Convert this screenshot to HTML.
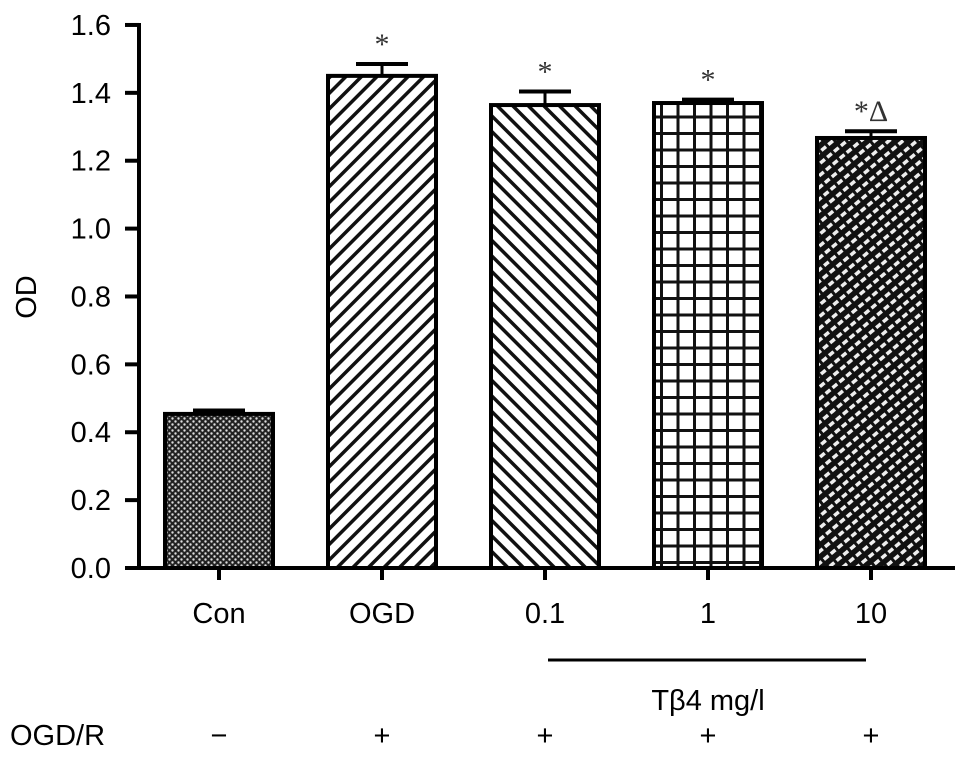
<!DOCTYPE html>
<html><head><meta charset="utf-8"><style>
html,body{margin:0;padding:0;background:#fff;}
svg{display:block;font-family:"Liberation Sans",sans-serif;}
</style></head><body>
<svg id="chart" width="969" height="757" viewBox="0 0 969 757">
<defs>
<pattern id="pCon" width="6" height="6" patternUnits="userSpaceOnUse">
<rect width="6" height="6" fill="#222"/><circle cx="1.5" cy="1.5" r="1.2" fill="#ddd"/><circle cx="4.5" cy="4.5" r="1.2" fill="#ddd"/>
</pattern>
<pattern id="pOGD" width="11" height="11" patternUnits="userSpaceOnUse" patternTransform="rotate(45)">
<rect width="11" height="11" fill="#fff"/><rect width="3.5" height="11" fill="#111"/>
</pattern>
<pattern id="p01" width="11" height="11" patternUnits="userSpaceOnUse" patternTransform="rotate(-45)">
<rect width="11" height="11" fill="#fff"/><rect width="3.5" height="11" fill="#111"/>
</pattern>
<pattern id="p1" width="16.5" height="16.5" patternUnits="userSpaceOnUse" x="0" y="0">
<rect width="16.5" height="16.5" fill="#fff"/><rect width="3" height="16.5" fill="#111"/><rect width="16.5" height="3" fill="#111"/>
</pattern>
<pattern id="p10" width="9" height="9" patternUnits="userSpaceOnUse" patternTransform="rotate(-40)">
<rect width="9" height="9" fill="#111"/><rect x="1.5" y="2.5" width="6" height="3.5" fill="#eee"/>
</pattern>
</defs>
<g id="plot"></g>
<text x="36" y="297" font-size="29" text-anchor="middle" transform="rotate(-90 36 297)">OD</text>
<line x1="548" y1="660" x2="866" y2="660" stroke="#000" stroke-width="3"/>
<text x="708" y="710" font-size="29" text-anchor="middle">Tβ4 mg/l</text>
<text x="10" y="745" font-size="29">OGD/R</text>
</svg>
<script>
const categories = ["Con","OGD","0.1","1","10"];
const values = [0.454,1.45,1.364,1.37,1.267];
const errors = [0.01,0.035,0.04,0.01,0.02];
const marks = ["","*","*","*","*Δ"];
const ogdr = ["−","+","+","+","+"];
const ticks = [0,0.2,0.4,0.6,0.8,1.0,1.2,1.4,1.6];
const fills = ["pCon","pOGD","p01","p1","p10"];
const NS="http://www.w3.org/2000/svg";
const g=document.getElementById('plot');
const y0=568, pxPer=339.4, x0=219, step=163, bw=112;
const y=v=>y0-v*pxPer;
const xc=i=>x0+i*step;
function mk(t,a){const e=document.createElementNS(NS,t);for(const k in a)e.setAttribute(k,a[k]);g.appendChild(e);return e;}
ticks.forEach(t=>{
 const l=mk('line',{x1:125,x2:139,y1:y(t),y2:y(t),stroke:'#000','stroke-width':4});
 
 
 const tx=mk('text',{x:111,y:y(t)+10,'font-size':29,'text-anchor':'end'});
 tx.textContent=t.toFixed(1);
 
 
});
categories.forEach((c,i)=>{
 const cx=xc(i), top=y(values[i]), et=y(values[i]+errors[i]);
 const el=mk('line',{x1:cx,x2:cx,y1:top,y2:et,stroke:'#000','stroke-width':3});
 
 
 const cap=mk('line',{x1:cx-26,x2:cx+26,y1:et,y2:et,stroke:'#000','stroke-width':4});
 
 
 const r=mk('rect',{x:cx-bw/2+2,y:top,width:bw-4,height:y0-top,fill:'url(#'+fills[i]+')',stroke:'#000','stroke-width':4});
 
 
 const tk=mk('line',{x1:cx,x2:cx,y1:y0,y2:y0+12,stroke:'#000','stroke-width':4});
 
 
 const lb=mk('text',{x:cx,y:623,'font-size':29,'text-anchor':'middle'});
 lb.textContent=c;
 
 
 if(marks[i]){
  const m=mk('text',{x:cx,y:et-10,'font-size':30,'text-anchor':'middle','font-family':'Liberation Serif, serif',fill:'#333'});
  m.textContent=marks[i];
  
  
 }
 const o=mk('text',{x:cx,y:745,'font-size':29,'text-anchor':'middle'});
 o.textContent=ogdr[i];
 
 
});
const ya=mk('line',{x1:139,x2:139,y1:y(1.6)-2,y2:y0+2,stroke:'#000','stroke-width':4});


const xa=mk('line',{x1:125,x2:955,y1:y0,y2:y0,stroke:'#000','stroke-width':4});


</script>
</body></html>
